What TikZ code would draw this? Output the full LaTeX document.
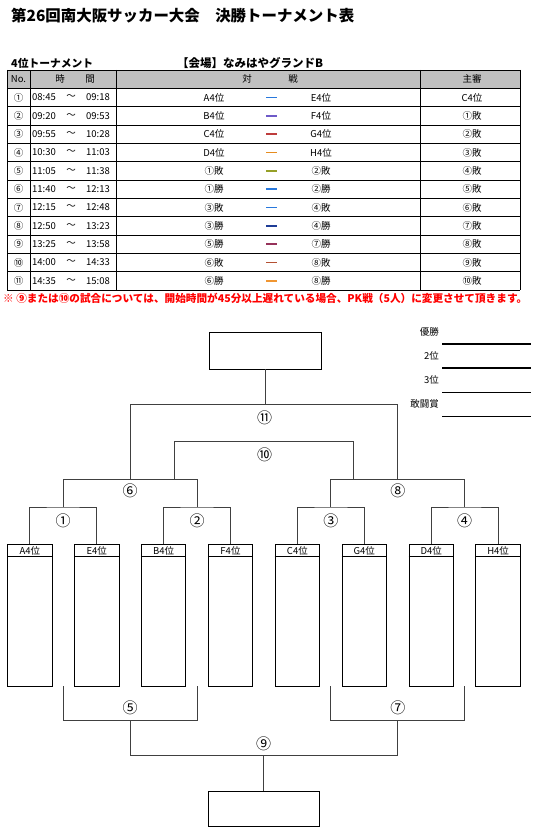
\documentclass[tikz,border=0pt]{standalone}
\usepackage{fontspec}
\setmainfont{Noto Sans CJK JP}
\definecolor{hdr}{RGB}{192,192,192}
\definecolor{brk}{RGB}{64,64,64}
\definecolor{noteRed}{RGB}{255,0,0}
\definecolor{dA}{RGB}{40,120,220}
\definecolor{dB}{RGB}{110,90,200}
\definecolor{dC}{RGB}{190,60,60}
\definecolor{dD}{RGB}{230,140,30}
\definecolor{dE}{RGB}{150,160,40}
\definecolor{dF}{RGB}{30,60,150}
\definecolor{dG}{RGB}{150,50,90}
\definecolor{dH}{RGB}{180,80,50}
\definecolor{dI}{RGB}{240,150,50}
\begin{document}
\begin{tikzpicture}[x=1pt,y=-1pt,
  tt/.style={inner sep=0pt,font=\fontsize{9.5}{10}\selectfont},
  grid/.style={line width=0.9pt,black},
  brline/.style={line width=0.9pt,brk},
  boxline/.style={draw=black,line width=0.9pt},
  lbl/.style={inner sep=0pt,font=\fontsize{15}{15}\selectfont},
  hlbl/.style={inner sep=0pt,font=\fontsize{9.5}{9.5}\selectfont},
  rlbl/.style={inner sep=0pt,anchor=east,font=\fontsize{9.5}{10}\selectfont}]
\useasboundingbox (0,0) rectangle (542,837);
% title
\node[inner sep=0pt,anchor=west] (title) at (11,16) {\resizebox{343pt}{!}{\bfseries 第26回南大阪サッカー大会　決勝トーナメント表}};
\node[inner sep=0pt,anchor=west] (sub1) at (11,63.5) {\resizebox{82pt}{!}{\bfseries 4位トーナメント}};
\node[inner sep=0pt,anchor=west] (sub2) at (177,63.5) {\resizebox{146pt}{!}{\bfseries 【会場】なみはやグランドB}};
% table
\fill[hdr] (7,70) rectangle (520,88.33);
\foreach \k in {0,...,12}{
  \pgfmathsetmacro{\yy}{70+18.333*\k}
  \draw[grid] (7,\yy) -- (520,\yy);
}
\foreach \xx in {7,30,116,420,520}{
  \draw[grid] (\xx,70) -- (\xx,290);
}
\node[tt] (hno) at (18.5,79.2) {No.};
\node[tt] (hti) at (60,79.2) {時};
\node[tt] (hti2) at (90,79.2) {間};
\node[tt] (hvs) at (247,79.2) {対};
\node[tt] (hvs2) at (293,79.2) {戦};
\node[tt] (href) at (472,79.2) {主審};
\foreach \i/\n/\ta/\tb/\l/\r/\j/\c in {
  1/①/08:45/09:18/A4位/E4位/C4位/dA,
  2/②/09:20/09:53/B4位/F4位/①敗/dB,
  3/③/09:55/10:28/C4位/G4位/②敗/dC,
  4/④/10:30/11:03/D4位/H4位/③敗/dD,
  5/⑤/11:05/11:38/①敗/②敗/④敗/dE,
  6/⑥/11:40/12:13/①勝/②勝/⑤敗/dA,
  7/⑦/12:15/12:48/③敗/④敗/⑥敗/dA,
  8/⑧/12:50/13:23/③勝/④勝/⑦敗/dF,
  9/⑨/13:25/13:58/⑤勝/⑦勝/⑧敗/dG,
  10/⑩/14:00/14:33/⑥敗/⑧敗/⑨敗/dH,
  11/⑪/14:35/15:08/⑥勝/⑧勝/⑩敗/dI}{
  \pgfmathsetmacro{\yy}{70+18.333*(\i+0.5)}
  \node[tt] (no\i) at (18.5,\yy) {\n};
  \node[tt] (ta\i) at (44,\yy) {\ta};
  \node[tt] (tl\i) at (71,\yy) {～};
  \node[tt] (tb\i) at (98,\yy) {\tb};
  \node[tt] (ml\i) at (214,\yy) {\l};
  \fill[\c] (266,\yy-0.9) rectangle (277,\yy+0.9);
  \node[tt] (mr\i) at (321,\yy) {\r};
  \node[tt] (rf\i) at (472,\yy) {\j};
}
% note
\node[inner sep=0pt,anchor=west,text=noteRed] (note) at (3,298) {\resizebox{524pt}{!}{\bfseries ※ ⑨または⑩の試合については、開始時間が45分以上遅れている場合、PK戦（5人）に変更させて頂きます。}};
% result list
\node[rlbl] (r1) at (439,332) {優勝};
\node[rlbl] (r2) at (439,356) {2位};
\node[rlbl] (r3) at (439,380) {3位};
\node[rlbl] (r4) at (439,404) {敢闘賞};
\foreach \yy in {344,368,392.5,416.5}{
  \draw[line width=1.7pt] (442,\yy) -- (531,\yy);
}
% team boxes
\foreach \k/\t in {0/A4位,1/E4位,2/B4位,3/F4位,4/C4位,5/G4位,6/D4位,7/H4位}{
  \pgfmathsetmacro{\cx}{29.8+66.9*\k}
  \node[boxline,minimum width=44.5pt,minimum height=142pt,anchor=north,inner sep=0pt] (b\k) at (\cx,544) {};
  \draw[line width=0.9pt] ([yshift=-12pt]b\k.north west) -- ([yshift=-12pt]b\k.north east);
  \node[hlbl] (bh\k) at (\cx,550.5) {\t};
}
% top and bottom boxes
\node[boxline,minimum width=112pt,minimum height=37pt,inner sep=0pt] (topbox) at (265,350.5) {};
\node[boxline,minimum width=111pt,minimum height=35pt,inner sep=0pt] (botbox) at (263.5,808.5) {};
% bracket coordinates
\coordinate (m1) at (63.2,507);
\coordinate (m2) at (197,507);
\coordinate (m3) at (330.9,507);
\coordinate (m4) at (464.7,507);
\coordinate (s1) at (63.2,479);
\coordinate (s2) at (197,479);
\coordinate (s3) at (330.9,479);
\coordinate (s4) at (464.7,479);
\coordinate (c6) at (130,479);
\coordinate (c8) at (397.8,479);
\coordinate (c6t) at (130,404.6);
\coordinate (c8t) at (397.8,404.6);
\coordinate (c11) at (265,404.6);
\coordinate (p10l) at (174.6,479);
\coordinate (p10r) at (353.8,479);
\coordinate (q10l) at (174.6,441.8);
\coordinate (q10r) at (353.8,441.8);
% first round
\draw[brline] (b0.north) |- (m1) -| (b1.north);
\draw[brline] (b2.north) |- (m2) -| (b3.north);
\draw[brline] (b4.north) |- (m3) -| (b5.north);
\draw[brline] (b6.north) |- (m4) -| (b7.north);
\draw[brline] (m1) -- (s1) -- (s2) -- (m2);
\draw[brline] (m3) -- (s3) -- (s4) -- (m4);
\draw[brline] (c6) -- (c6t) -- (c8t) -- (c8);
\draw[brline] (c11) -- (topbox.south);
\draw[brline] (p10l) -- (q10l) -- (q10r) -- (p10r);
\node[lbl] (L1) at (63.2,521) {①};
\node[lbl] (L2) at (197,521) {②};
\node[lbl] (L3) at (330.9,521) {③};
\node[lbl] (L4) at (464.7,521) {④};
\node[lbl] (L6) at (130,490.5) {⑥};
\node[lbl] (L8) at (397.8,490.5) {⑧};
\node[lbl] (L11) at (264.5,417.5) {⑪};
\node[lbl] (L10) at (264.5,454.5) {⑩};
% lower bracket
\coordinate (u5l) at (63.2,720);
\coordinate (u5r) at (197,720);
\coordinate (u7l) at (330.9,720);
\coordinate (u7r) at (464.7,720);
\coordinate (c5) at (130,720);
\coordinate (c7) at (397.8,720);
\coordinate (c5b) at (130,755);
\coordinate (c7b) at (397.8,755);
\coordinate (c9) at (263.5,755);
\draw[brline] (63.2,686) -- (u5l) -- (u5r) -- (197,686);
\draw[brline] (330.9,686) -- (u7l) -- (u7r) -- (464.7,686);
\draw[brline] (c5) -- (c5b) -- (c7b) -- (c7);
\draw[brline] (c9) -- (botbox.north);
\node[lbl] (L5) at (130,708) {⑤};
\node[lbl] (L7) at (397.8,708) {⑦};
\node[lbl] (L9) at (263.5,744) {⑨};
\end{tikzpicture}
\end{document}
